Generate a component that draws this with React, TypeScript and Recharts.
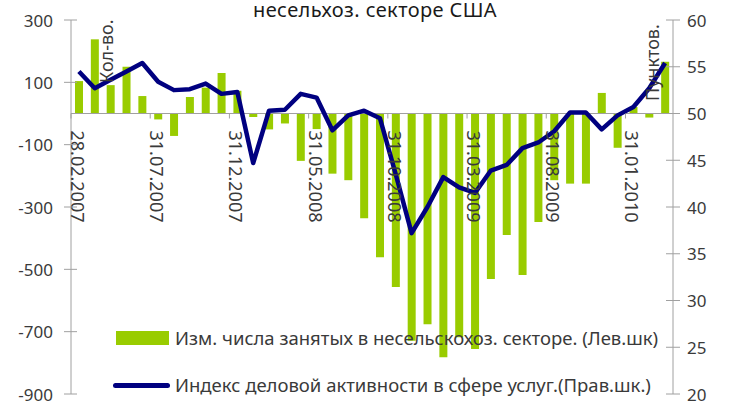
import React from 'react';
import { ComposedChart, Bar, Line, XAxis, YAxis, ReferenceLine, Legend } from 'recharts';

// month-end dates, Feb 2007 .. Mar 2010
const months = [
  '28.02.2007', '31.03.2007', '30.04.2007', '31.05.2007', '30.06.2007', '31.07.2007',
  '31.08.2007', '30.09.2007', '31.10.2007', '30.11.2007', '31.12.2007', '31.01.2008',
  '29.02.2008', '31.03.2008', '30.04.2008', '31.05.2008', '30.06.2008', '31.07.2008',
  '31.08.2008', '30.09.2008', '31.10.2008', '30.11.2008', '31.12.2008', '31.01.2009',
  '28.02.2009', '31.03.2009', '30.04.2009', '31.05.2009', '30.06.2009', '31.07.2009',
  '31.08.2009', '30.09.2009', '31.10.2009', '30.11.2009', '31.12.2009', '31.01.2010',
  '28.02.2010', '31.03.2010',
];

// change in non-farm payrolls, thousands (left scale)
const payrollChange = [
  104, 238, 91, 150, 56, -19, -72, 53, 83, 130, 73, -11,
  -51, -32, -152, -50, -193, -214, -336, -461, -557, -729, -676, -782,
  -718, -756, -531, -390, -518, -348, -214, -225, -225, 66, -110, 21,
  -13, 166,
];

// services business activity index, points (right scale)
const servicesIndex = [
  54.5, 52.7, 53.6, 54.5, 55.4, 53.4, 52.5, 52.6, 53.2, 52.1, 52.3, 44.7,
  50.3, 50.4, 52.1, 51.7, 48.2, 49.8, 50.3, 49.5, 43.5, 37.2, 40.0, 43.2,
  42.1, 41.5, 43.9, 44.5, 46.3, 46.9, 48.1, 50.1, 50.1, 48.3, 49.8, 50.7,
  52.7, 55.4,
];

const leftTicks = [-900, -700, -500, -300, -100, 100, 300];
const rightTicks = [20, 25, 30, 35, 40, 45, 50, 55, 60];

const data = months.map((m, i) => ({
  month: m,
  jobs: payrollChange[i],
  index: servicesIndex[i],
}));

const W = 734;
const H = 401;
const LEFT_W = 71;
const RIGHT_W = 61;
const TOP = 20;
const BOTTOM = 7;
const PLOT_W = W - LEFT_W - RIGHT_W;
const PLOT_H = H - TOP - BOTTOM;
const L_MIN = leftTicks[0];
const L_MAX = leftTicks[leftTicks.length - 1];
const ZERO_Y = TOP + (PLOT_H * L_MAX) / (L_MAX - L_MIN);
const BAND = PLOT_W / months.length;

const FONT = '"Noto Sans", sans-serif';
const TXT = '#3a3a3a';
const AXIS = '#a0a0a0';
const GREEN = '#99CC00';
const NAVY = '#000080';

const LeftTick = (props: any) => {
  const { x, y, payload } = props;
  return (
    <g>
      <line x1={LEFT_W - 7} x2={LEFT_W + 6} y1={y} y2={y} stroke={AXIS} strokeWidth={1} />
      <text x={x} y={y} textAnchor="end" dominantBaseline="central" fill={TXT} fontSize={17} fontFamily={FONT}>
        {payload.value}
      </text>
    </g>
  );
};

const RightTick = (props: any) => {
  const { x, y, payload } = props;
  const ax = W - RIGHT_W;
  return (
    <g>
      <line x1={ax - 7} x2={ax + 7} y1={y} y2={y} stroke={AXIS} strokeWidth={1} />
      <text x={x} y={y} textAnchor="start" dominantBaseline="central" fill={TXT} fontSize={17} fontFamily={FONT}>
        {payload.value}
      </text>
    </g>
  );
};

const MonthTick = (props: any) => {
  const { x, payload } = props;
  const tx = x - BAND / 2;
  const ly = ZERO_Y + 17;
  return (
    <g>
      <line x1={tx} x2={tx} y1={ZERO_Y} y2={ZERO_Y + 5} stroke={AXIS} strokeWidth={1} />
      <text
        x={x - 1}
        y={ly}
        transform={`rotate(90, ${x - 1}, ${ly})`}
        textAnchor="start"
        dominantBaseline="central"
        fill={TXT}
        fontSize={18}
        fontFamily={FONT}
      >
        {payload.value}
      </text>
    </g>
  );
};

const LegendBox = () => (
  <div style={{ position: 'relative', width: W, height: H, fontFamily: FONT, fontSize: 18.5, color: TXT }}>
    <div style={{ position: 'absolute', left: 116, top: 331, width: 53, height: 14, background: GREEN }} />
    <div style={{ position: 'absolute', left: 175, top: 325, lineHeight: '26px', whiteSpace: 'nowrap' }}>
      Изм. числа занятых в несельскохоз. секторе. (Лев.шк)
    </div>
    <div style={{ position: 'absolute', left: 113, top: 383, width: 57, height: 5, borderRadius: 3, background: NAVY }} />
    <div style={{ position: 'absolute', left: 175, top: 372, lineHeight: '26px', whiteSpace: 'nowrap' }}>
      Индекс деловой активности в сфере услуг.(Прав.шк.)
    </div>
  </div>
);

export default function App() {
  return (
    <div style={{ position: 'absolute', left: 0, top: 0, width: W, height: H, background: '#fff' }}>
      <div
        style={{
          position: 'absolute',
          left: 253,
          top: 0,
          fontFamily: FONT,
          fontSize: 20,
          lineHeight: '19px',
          letterSpacing: '0.4px',
          color: '#1a1a1a',
          whiteSpace: 'nowrap',
          zIndex: 2,
        }}
      >
        несельхоз. секторе США
      </div>
      <ComposedChart
        width={W}
        height={H}
        data={data}
        margin={{ top: TOP, right: 0, bottom: BOTTOM - 1, left: 0 }}
        barSize={8}
      >
        <XAxis
          dataKey="month"
          height={1}
          axisLine={false}
          tickLine={false}
          interval={4}
          tick={<MonthTick />}
        />
        <YAxis
          yAxisId="left"
          width={LEFT_W}
          domain={[L_MIN, L_MAX]}
          ticks={leftTicks}
          interval={0}
          axisLine={{ stroke: AXIS }}
          tickLine={false}
          tickSize={7}
          tickMargin={11}
          tick={<LeftTick />}
          label={{
            content: (p: any) => {
              const vb = p.viewBox;
              const lx = vb.x + vb.width + 35;
              const ly = vb.y + 63;
              return (
                <text x={lx} y={ly} transform={`rotate(-90, ${lx}, ${ly})`} dominantBaseline="central" fill={TXT} fontSize={18} fontFamily={FONT}>
                  Кол-во.
                </text>
              );
            },
          }}
        />
        <YAxis
          yAxisId="right"
          orientation="right"
          width={RIGHT_W}
          domain={[20, 60]}
          ticks={rightTicks}
          interval={0}
          axisLine={{ stroke: AXIS }}
          tickLine={false}
          tickSize={7}
          tickMargin={7}
          tick={<RightTick />}
          label={{
            content: (p: any) => {
              const vb = p.viewBox;
              const lx = vb.x - 21;
              const ly = vb.y + 81;
              return (
                <text x={lx} y={ly} transform={`rotate(-90, ${lx}, ${ly})`} dominantBaseline="central" fill={TXT} fontSize={18} fontFamily={FONT}>
                  Пунктов.
                </text>
              );
            },
          }}
        />
        <Bar yAxisId="left" dataKey="jobs" fill={GREEN} isAnimationActive={false} />
        <ReferenceLine yAxisId="left" y={0} stroke={AXIS} strokeWidth={1} />
        <Line
          yAxisId="right"
          dataKey="index"
          stroke={NAVY}
          strokeWidth={4.5}
          strokeLinejoin="round"
          dot={false}
          type="linear"
          isAnimationActive={false}
        />
        <Legend
          layout="horizontal"
          verticalAlign="middle"
          align="center"
          content={<LegendBox />}
          wrapperStyle={{ left: 0, top: 0, width: W, height: H, pointerEvents: 'none' }}
        />
      </ComposedChart>
    </div>
  );
}
